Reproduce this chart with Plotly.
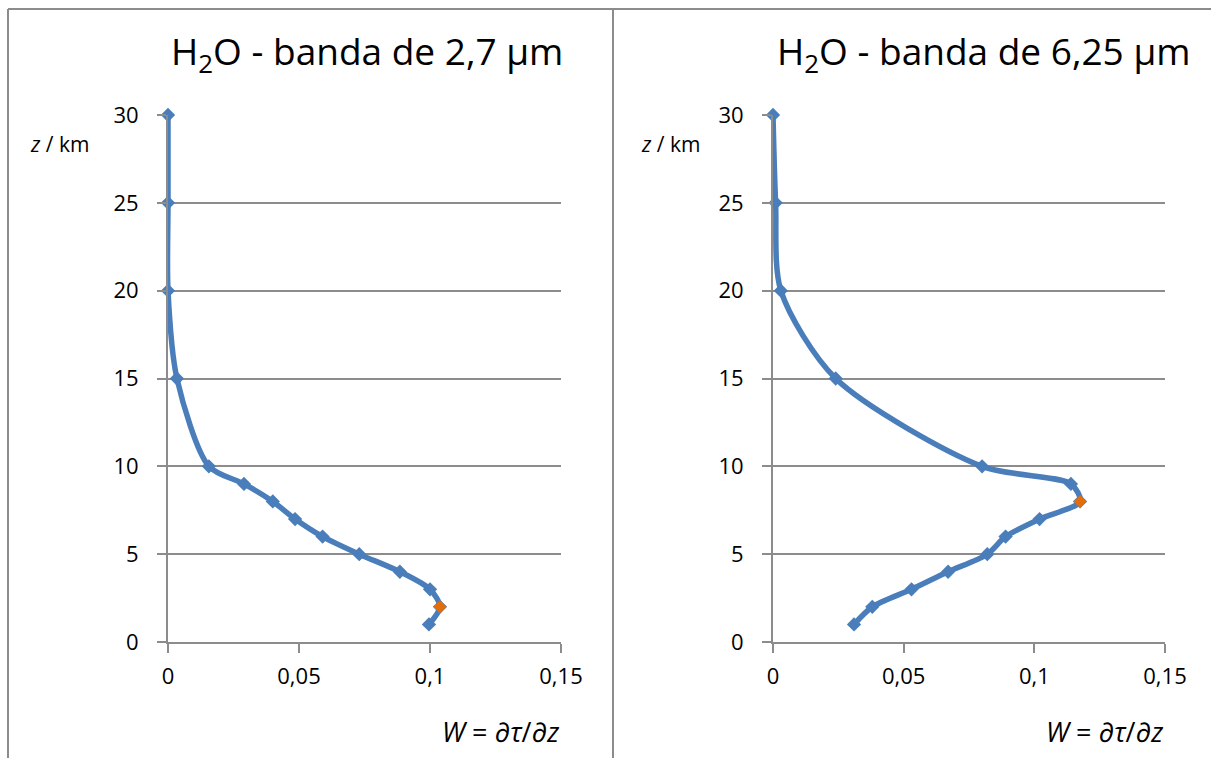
import plotly.graph_objects as go

W_PX, H_PX = 1211, 758

# Data
z_km = [1, 2, 3, 4, 5, 6, 7, 8, 9, 10, 15, 20, 25, 30]
w_27 = [0.0996, 0.1038, 0.100, 0.0885, 0.073, 0.059, 0.0485, 0.040, 0.029, 0.0156, 0.0034, 0.0, 0.0, 0.0]
w_625 = [0.031, 0.038, 0.053, 0.067, 0.082, 0.089, 0.102, 0.1175, 0.114, 0.080, 0.024, 0.003, 0.001, 0.0]
max_27_z = [2]
max_27_w = [0.1038]
max_625_z = [8]
max_625_w = [0.1175]

x_tickvals = [0, 0.05, 0.1, 0.15]
x_ticktext = ["0", "0,05", "0,1", "0,15"]
y_tickvals = [0, 5, 10, 15, 20, 25, 30]
y_ticktext = ["0", "5", "10", "15", "20", "25", "30"]

titles = ["H<sub>2</sub>O - banda de 2,7 µm", "H<sub>2</sub>O - banda de 6,25 µm"]

BLUE = "#4A7EBB"
ORANGE = "#E46C0A"
GRAY = "#8C8C8C"
FONT = "Open Sans"

def px_x(p):
    return p / W_PX

def px_y(p):
    return 1 - p / H_PX

fig = go.Figure()

series = [(w_27, max_27_w, max_27_z, "x", "y"), (w_625, max_625_w, max_625_z, "x2", "y2")]
for w, mw, mz, xa, ya in series:
    fig.add_trace(go.Scatter(
        x=w, y=z_km, xaxis=xa, yaxis=ya, mode="lines+markers",
        line=dict(color=BLUE, width=5.5, shape="spline", smoothing=0.8),
        marker=dict(symbol="diamond", size=11, color=BLUE),
        cliponaxis=False, showlegend=False))
    fig.add_trace(go.Scatter(
        x=mw, y=mz, xaxis=xa, yaxis=ya, mode="markers",
        marker=dict(symbol="diamond", size=10, color=ORANGE),
        cliponaxis=False, showlegend=False))

ydom = [px_y(642), px_y(115)]
xdoms = [[px_x(168), px_x(561)], [px_x(773), px_x(1165)]]

common_x = dict(range=[0, 0.15], tickvals=x_tickvals, ticktext=x_ticktext, automargin=False,
                showgrid=False, zeroline=False, showline=True, linecolor=GRAY, linewidth=2,
                ticks="outside", ticklen=9, tickwidth=2, tickcolor=GRAY,
                tickfont=dict(family=FONT, size=22, color="#000000"), ticklabelstandoff=5,
                fixedrange=True)
common_y = dict(range=[0, 30], tickvals=y_tickvals, ticktext=y_ticktext, automargin=False,
                showgrid=True, gridcolor=GRAY, gridwidth=2, zeroline=False,
                showline=True, linecolor=GRAY, linewidth=2,
                ticks="outside", ticklen=9, tickwidth=2, tickcolor=GRAY,
                tickfont=dict(family=FONT, size=22, color="#000000"), ticklabelstandoff=14,
                fixedrange=True)

fig.update_layout(
    template="none",
    width=W_PX, height=H_PX, margin=dict(l=0, r=0, t=0, b=0, pad=0),
    paper_bgcolor="white", plot_bgcolor="white",
    xaxis=dict(domain=xdoms[0], anchor="y", **common_x),
    yaxis=dict(domain=ydom, anchor="x", **common_y),
    xaxis2=dict(domain=xdoms[1], anchor="y2", **common_x),
    yaxis2=dict(domain=ydom, anchor="x2", **common_y),
)

annotations = []
title_cx = [367, 984]
zlabel_x = [59, 670]
wlabel_rx = [561, 1165]
for i in range(2):
    annotations.append(dict(text=titles[i], x=px_x(title_cx[i]), y=px_y(53), xref="paper", yref="paper",
                            xanchor="center", yanchor="middle", showarrow=False,
                            font=dict(family=FONT, size=37, color="#000000")))
    annotations.append(dict(text="<i>z</i> / km", x=px_x(zlabel_x[i]), y=px_y(144), xref="paper", yref="paper",
                            xanchor="center", yanchor="middle", showarrow=False,
                            font=dict(family=FONT, size=21, color="#000000")))
    annotations.append(dict(text="<i>W</i> = <i>∂τ</i>/<i>∂z</i>", x=px_x(wlabel_rx[i]), y=px_y(731), xref="paper", yref="paper",
                            xanchor="right", yanchor="middle", showarrow=False,
                            font=dict(family=FONT, size=27, color="#000000")))
fig.update_layout(annotations=annotations)

shapes = [
    dict(type="line", xref="paper", yref="paper", x0=px_x(8), x1=1, y0=px_y(9), y1=px_y(9), line=dict(color=GRAY, width=2)),
    dict(type="line", xref="paper", yref="paper", x0=px_x(8), x1=px_x(8), y0=px_y(9), y1=0, line=dict(color=GRAY, width=2)),
    dict(type="line", xref="paper", yref="paper", x0=px_x(613), x1=px_x(613), y0=px_y(9), y1=0, line=dict(color=GRAY, width=2)),
]
fig.update_layout(shapes=shapes)

fig.write_html("out.html")
